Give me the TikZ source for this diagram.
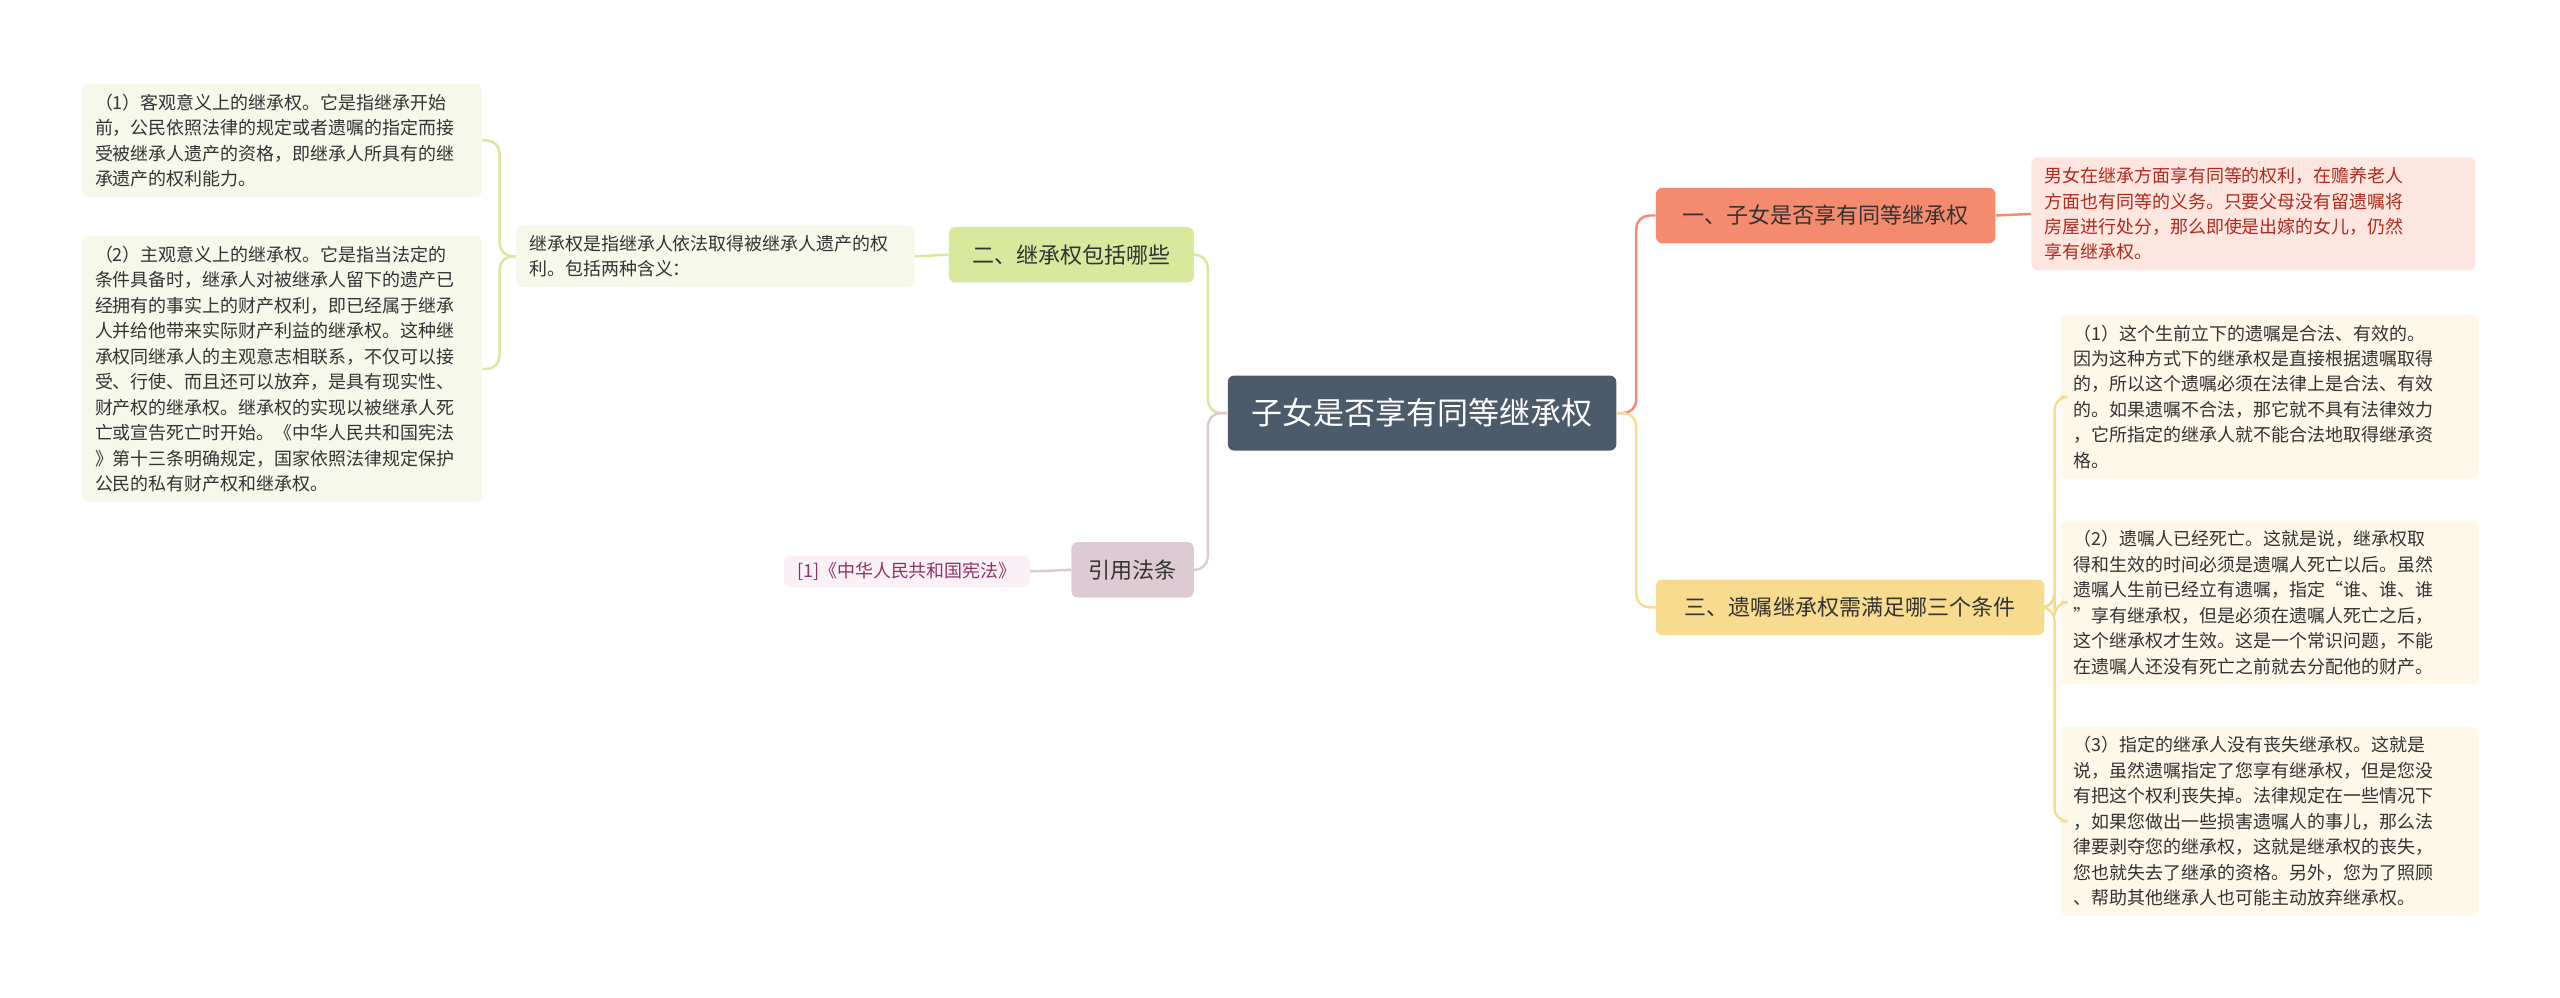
\documentclass[tikz,border=0pt]{standalone}
\usepackage{fontspec}
\setmainfont{Noto Sans CJK SC}
\usetikzlibrary{positioning}
\definecolor{rootc}{HTML}{4B5B6B}
\definecolor{onec}{HTML}{F58B6E}
\definecolor{oneleaf}{HTML}{FDE6E0}
\definecolor{onetext}{HTML}{B02A1E}
\definecolor{twoc}{HTML}{D8E89C}
\definecolor{twoleaf}{HTML}{F6F8EA}
\definecolor{threec}{HTML}{F7DC8F}
\definecolor{threeleaf}{HTML}{FDF8E8}
\definecolor{refc}{HTML}{DDCBD4}
\definecolor{refleaf}{HTML}{F9F1F5}
\definecolor{reftext}{HTML}{8E3366}
\definecolor{ink}{HTML}{333333}

\begin{document}
\begin{tikzpicture}[x=1pt,y=-1pt]
            \tikzstyle{topic} = [rounded corners=4pt,anchor=west,inner xsep=8pt,text=ink,
                                 minimum height=34pt,font=\fontsize{13.5}{16}\selectfont]
            \tikzstyle{leaf} = [rounded corners=4pt,anchor=west,inner xsep=8pt,inner ysep=6pt,
                                align=left,text=ink,font=\fontsize{11}{15.6}\selectfont]
            \tikzstyle{link} = [line width=1.5pt,rounded corners=8pt]

            \useasboundingbox (0,0) rectangle (1568,611);

            \node[fill=rootc,text=white,rounded corners=4pt,minimum width=238pt,minimum height=46pt,
                  font=\fontsize{19}{22}\selectfont] (root) at (871,253) {子女是否享有同等继承权};

            \node[topic,fill=onec,minimum width=208pt] (one) at (1014,132) {一、子女是否享有同等继承权};
            \node[leaf,fill=oneleaf,text=onetext,text width=256pt] (one-a) at (1244,131)
                {男女在继承方面享有同等的权利，在赡养老人\\方面也有同等的义务。只要父母没有留遗嘱将\\房屋进行处分，那么即使是出嫁的女儿，仍然\\享有继承权。};

            \node[topic,fill=threec,minimum width=238pt] (three) at (1014,372) {三、遗嘱继承权需满足哪三个条件};
            \node[leaf,fill=threeleaf,text width=240pt] (three-a) at (1262,243)
                {（1）这个生前立下的遗嘱是合法、有效的。\\因为这种方式下的继承权是直接根据遗嘱取得\\的，所以这个遗嘱必须在法律上是合法、有效\\的。如果遗嘱不合法，那它就不具有法律效力\\，它所指定的继承人就不能合法地取得继承资\\格。};
            \node[leaf,fill=threeleaf,text width=240pt] (three-b) at (1262,369)
                {（2）遗嘱人已经死亡。这就是说，继承权取\\得和生效的时间必须是遗嘱人死亡以后。虽然\\遗嘱人生前已经立有遗嘱，指定“谁、谁、谁\\”享有继承权，但是必须在遗嘱人死亡之后，\\这个继承权才生效。这是一个常识问题，不能\\在遗嘱人还没有死亡之前就去分配他的财产。};
            \node[leaf,fill=threeleaf,text width=240pt] (three-c) at (1262,503)
                {（3）指定的继承人没有丧失继承权。这就是\\说，虽然遗嘱指定了您享有继承权，但是您没\\有把这个权利丧失掉。法律规定在一些情况下\\，如果您做出一些损害遗嘱人的事儿，那么法\\律要剥夺您的继承权，这就是继承权的丧失，\\您也就失去了继承的资格。另外，您为了照顾\\、帮助其他继承人也可能主动放弃继承权。};

            \node[topic,fill=twoc,minimum width=150pt] (two) at (581,156) {二、继承权包括哪些};
            \node[leaf,fill=twoleaf,text width=228pt] (two-a) at (316,157)
                {继承权是指继承人依法取得被继承人遗产的权\\利。包括两种含义：};
            \node[leaf,fill=twoleaf,text width=229pt] (two-b) at (50,86)
                {（1）客观意义上的继承权。它是指继承开始\\前，公民依照法律的规定或者遗嘱的指定而接\\受被继承人遗产的资格，即继承人所具有的继\\承遗产的权利能力。};
            \node[leaf,fill=twoleaf,text width=229pt] (two-c) at (50,226)
                {（2）主观意义上的继承权。它是指当法定的\\条件具备时，继承人对被继承人留下的遗产已\\经拥有的事实上的财产权利，即已经属于继承\\人并给他带来实际财产利益的继承权。这种继\\承权同继承人的主观意志相联系，不仅可以接\\受、行使、而且还可以放弃，是具有现实性、\\财产权的继承权。继承权的实现以被继承人死\\亡或宣告死亡时开始。《中华人民共和国宪法\\》第十三条明确规定，国家依照法律规定保护\\公民的私有财产权和继承权。};

            \node[topic,fill=refc,minimum width=75pt] (ref) at (656,349) {引用法条};
            \node[leaf,fill=refleaf,text=reftext,inner ysep=4pt] (ref-a) at (480,350) {[1]《中华人民共和国宪法》};

            % connectors
            \draw[link,onec] (root.east) -- ++(12,0) |- (one.west);
            \draw[link,threec] (root.east) -- ++(12,0) |- (three.west);
            \draw[link,onec] (one.east) -- (one-a.west);
            \draw[link,threec] (three.east) -- ++(6,0) |- (three-a.west);
            \draw[link,threec] (three.east) -- ++(6,0) |- (three-b.west);
            \draw[link,threec] (three.east) -- ++(6,0) |- (three-c.west);
            \draw[link,twoc] (root.west) -- ++(-12,0) |- (two.east);
            \draw[link,refc] (root.west) -- ++(-12,0) |- (ref.east);
            \draw[link,twoc] (two.west) -- (two-a.east);
            \draw[link,twoc] (two-a.west) -- ++(-10,0) |- (two-b.east);
            \draw[link,twoc] (two-a.west) -- ++(-10,0) |- (two-c.east);
            \draw[link,refc] (ref.west) -- (ref-a.east);
        \end{tikzpicture}
\end{document}
